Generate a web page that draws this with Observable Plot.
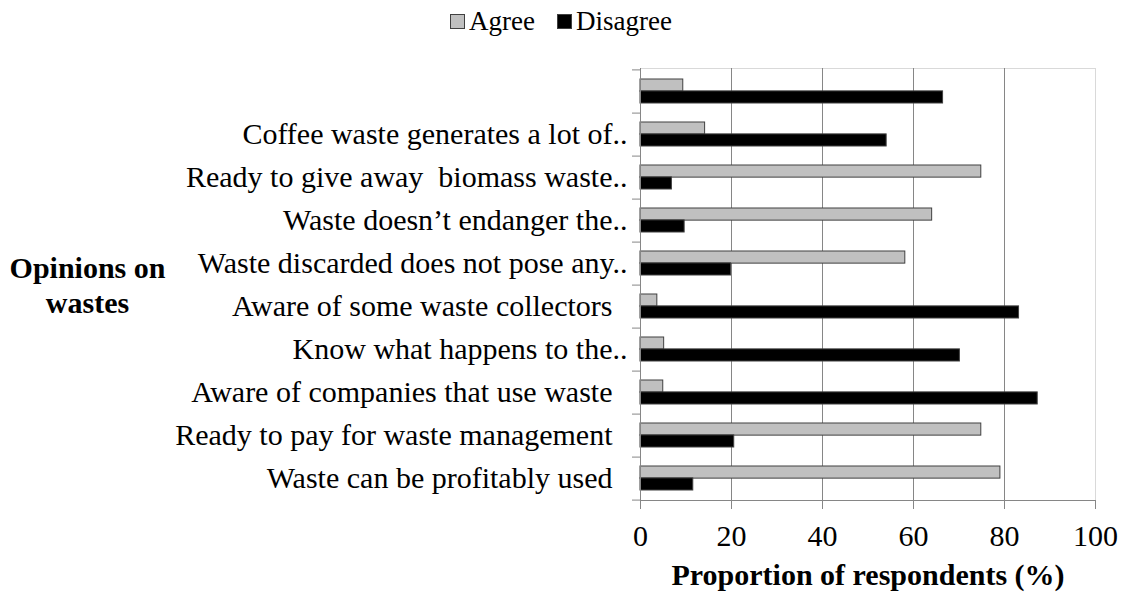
<!DOCTYPE html>
<html>
<head>
<meta charset="utf-8">
<script src="https://cdn.jsdelivr.net/npm/d3@7"></script>
<script src="https://cdn.jsdelivr.net/npm/@observablehq/plot@0.6"></script>
<style>
  body { margin: 0; background: #fff; font-family: "Liberation Serif", "Times New Roman", serif; }
  #legend { height: 40px; display: flex; justify-content: center; align-items: center; font-size: 27px; color: #000; padding-top: 2px; box-sizing: border-box; }
  #legend .item { display: flex; align-items: center; margin: 0 11px; }
  #legend .sw { width: 13px; height: 13px; border: 1px solid #404040; margin-right: 4px; }
</style>
</head>
<body>
<div id="legend"></div>
<div id="chart"></div>
<script>
const categories = [
  "",
  "Coffee waste generates a lot of..",
  "Ready to give away\u00a0 biomass waste..",
  "Waste doesn\u2019t endanger the..",
  "Waste discarded does not pose any..",
  "Aware of some waste collectors",
  "Know what happens to the..",
  "Aware of companies that use waste",
  "Ready to pay for waste management",
  "Waste can be profitably used"
];
const agree    = [9.4, 14.2, 74.9, 64.1, 58.2, 3.7, 5.2, 5.0, 74.9, 79.1];
const disagree = [66.5, 54.1, 6.9, 9.7, 19.9, 83.2, 70.2, 87.3, 20.6, 11.6];
const series = ["Agree", "Disagree"];
const colors = ["#c0c0c0", "#000000"];
const xTicks = [0, 20, 40, 60, 80, 100];
const gridTicks = [20, 40, 60, 80];
const yTitle = "Opinions on\nwastes";
const xTitle = "Proportion of respondents (%)";

const agreeData = categories.map((c, i) => ({category: c, value: agree[i]}));
const disagreeData = categories.map((c, i) => ({category: c, value: disagree[i]}));

const serif = '"Liberation Serif", "Times New Roman", serif';
const width = 1122, height = 554, marginTop = 28, marginBottom = 94, marginLeft = 640, marginRight = 27;
const step = (height - marginTop - marginBottom) / categories.length;
const paddingInner = 0.45;
const half = step * (1 - paddingInner) / 2;

const legend = document.getElementById("legend");
series.forEach((s, i) => {
  const it = document.createElement("div");
  it.className = "item";
  const sw = document.createElement("div");
  sw.className = "sw";
  sw.style.background = colors[i];
  it.appendChild(sw);
  const t = document.createElement("span");
  t.textContent = s;
  it.appendChild(t);
  legend.appendChild(it);
});

const chart = Plot.plot({
  width, height, marginTop, marginBottom, marginLeft, marginRight,
  style: {fontFamily: serif, fontSize: "30px", color: "#000", background: "#fff"},
  x: {domain: [0, 100], label: null},
  y: {domain: categories, paddingInner, paddingOuter: paddingInner / 2, label: null},
  marks: [
    Plot.frame({stroke: "#d9d9d9"}),
    Plot.gridX(gridTicks, {stroke: "#868686", strokeOpacity: 1}),
    Plot.barX(agreeData, {x: "value", y: "category", fill: colors[0], stroke: "#404040", strokeWidth: 1, insetBottom: half}),
    Plot.barX(disagreeData, {x: "value", y: "category", fill: colors[1], stroke: "#404040", strokeWidth: 1, insetTop: half}),
    Plot.ruleX([0], {stroke: "#868686"}),
    Plot.frame({anchor: "bottom", stroke: "#868686"}),
    Plot.axisX({ticks: xTicks, tickSize: 9, tickPadding: 15, stroke: "#868686", fontSize: 30, label: null, tickFormat: d => d}),
    Plot.axisY({tickSize: 8, text: null, dy: step / 2, stroke: "#868686"}),
    Plot.axisY({ticks: [categories[0]], tickSize: 8, text: null, dy: -step / 2, stroke: "#868686"}),
    Plot.axisY({tickSize: 0, tickPadding: 13, fontSize: 30, label: null,
      tickFormat: d => d.endsWith("..") ? d : d + "\u2002"}),
    Plot.text([xTitle], {frameAnchor: "bottom", dy: 75, lineAnchor: "middle", fontWeight: "bold", fontSize: 30, textAnchor: "middle"}),
    Plot.text([yTitle], {frameAnchor: "left", dx: -553, lineAnchor: "middle", fontWeight: "bold", fontSize: 30, textAnchor: "middle", lineHeight: 1.17})
  ]
});
document.getElementById("chart").appendChild(chart);
</script>
</body>
</html>
